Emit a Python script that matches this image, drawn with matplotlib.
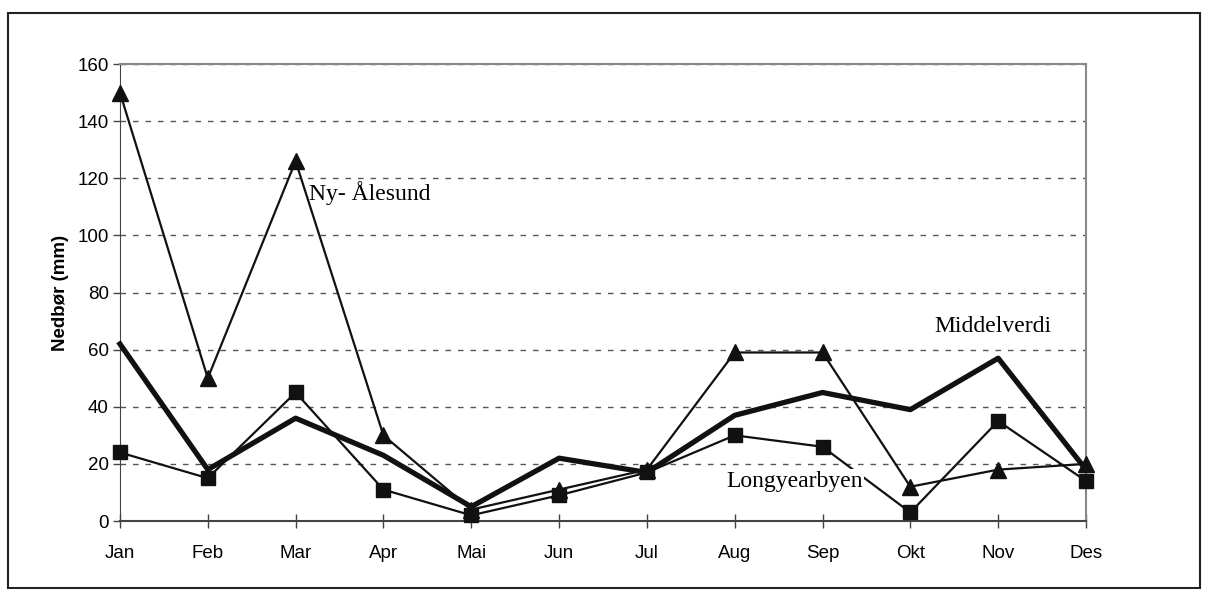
import matplotlib
matplotlib.use('Agg')
import matplotlib.pyplot as plt
from matplotlib.patches import Rectangle

# Monthly precipitation (mm)
months = ['Jan', 'Feb', 'Mar', 'Apr', 'Mai', 'Jun', 'Jul', 'Aug', 'Sep', 'Okt', 'Nov', 'Des']
ny_alesund = [150, 50, 126, 30, 4, 11, 18, 59, 59, 12, 18, 20]
longyearbyen = [24, 15, 45, 11, 2, 9, 17, 30, 26, 3, 35, 14]
middelverdi = [62, 18, 36, 23, 5, 22, 17, 37, 45, 39, 57, 18]

plt.rcParams['font.family'] = ['Liberation Sans', 'DejaVu Sans']

fig = plt.figure(figsize=(12.08, 5.96), dpi=100)
ax = fig.add_axes([0.0993, 0.1258, 0.7997, 0.7668])

x = list(range(len(months)))

ax.plot(x, ny_alesund, color='#111111', lw=1.6, marker='^', ms=11, zorder=3, clip_on=False)
ax.plot(x, longyearbyen, color='#111111', lw=1.6, marker='s', ms=10, zorder=3, clip_on=False)
ax.plot(x, middelverdi, color='#111111', lw=3.8, zorder=4, clip_on=False)

ax.set_xlim(0, 11)
ax.set_ylim(0, 160)
ax.set_yticks(range(0, 161, 20))
ax.set_xticks(x)
ax.set_xticklabels(months)
ax.tick_params(axis='both', labelsize=13.5, color='#444444', width=1)
ax.tick_params(axis='x', direction='inout', length=10, pad=12)
ax.tick_params(axis='y', direction='out', length=5, pad=3)

ax.yaxis.grid(True, linestyle=(0, (4, 5)), color='#555555', lw=1)
ax.set_axisbelow(True)
for s in ['top', 'right']:
    ax.spines[s].set_color('#888888')
    ax.spines[s].set_linewidth(1.5)
ax.spines['left'].set_color('#444444')
ax.spines['bottom'].set_color('#444444')
ax.spines['bottom'].set_linewidth(1.5)

ax.set_ylabel('Nedbør (mm)', fontsize=13.5, fontweight='bold', labelpad=6)

serif = ['Liberation Serif', 'DejaVu Serif']
ax.text(2.15, 115, 'Ny- Ålesund', family=serif, fontsize=17, va='center', ha='left')
ax.text(9.27, 68, 'Middelverdi', family=serif, fontsize=17, va='center', ha='left')
ax.text(6.9, 14, 'Longyearbyen', family=serif, fontsize=17, va='center', ha='left',
        bbox=dict(facecolor='white', edgecolor='none', pad=1), zorder=5)

fig.patches.append(Rectangle((8 / 1208, 1 - 588 / 596), 1192 / 1208, 575 / 596,
                             transform=fig.transFigure, fill=False,
                             edgecolor='#222222', lw=1.5))

fig.savefig('out.png', dpi=100)
